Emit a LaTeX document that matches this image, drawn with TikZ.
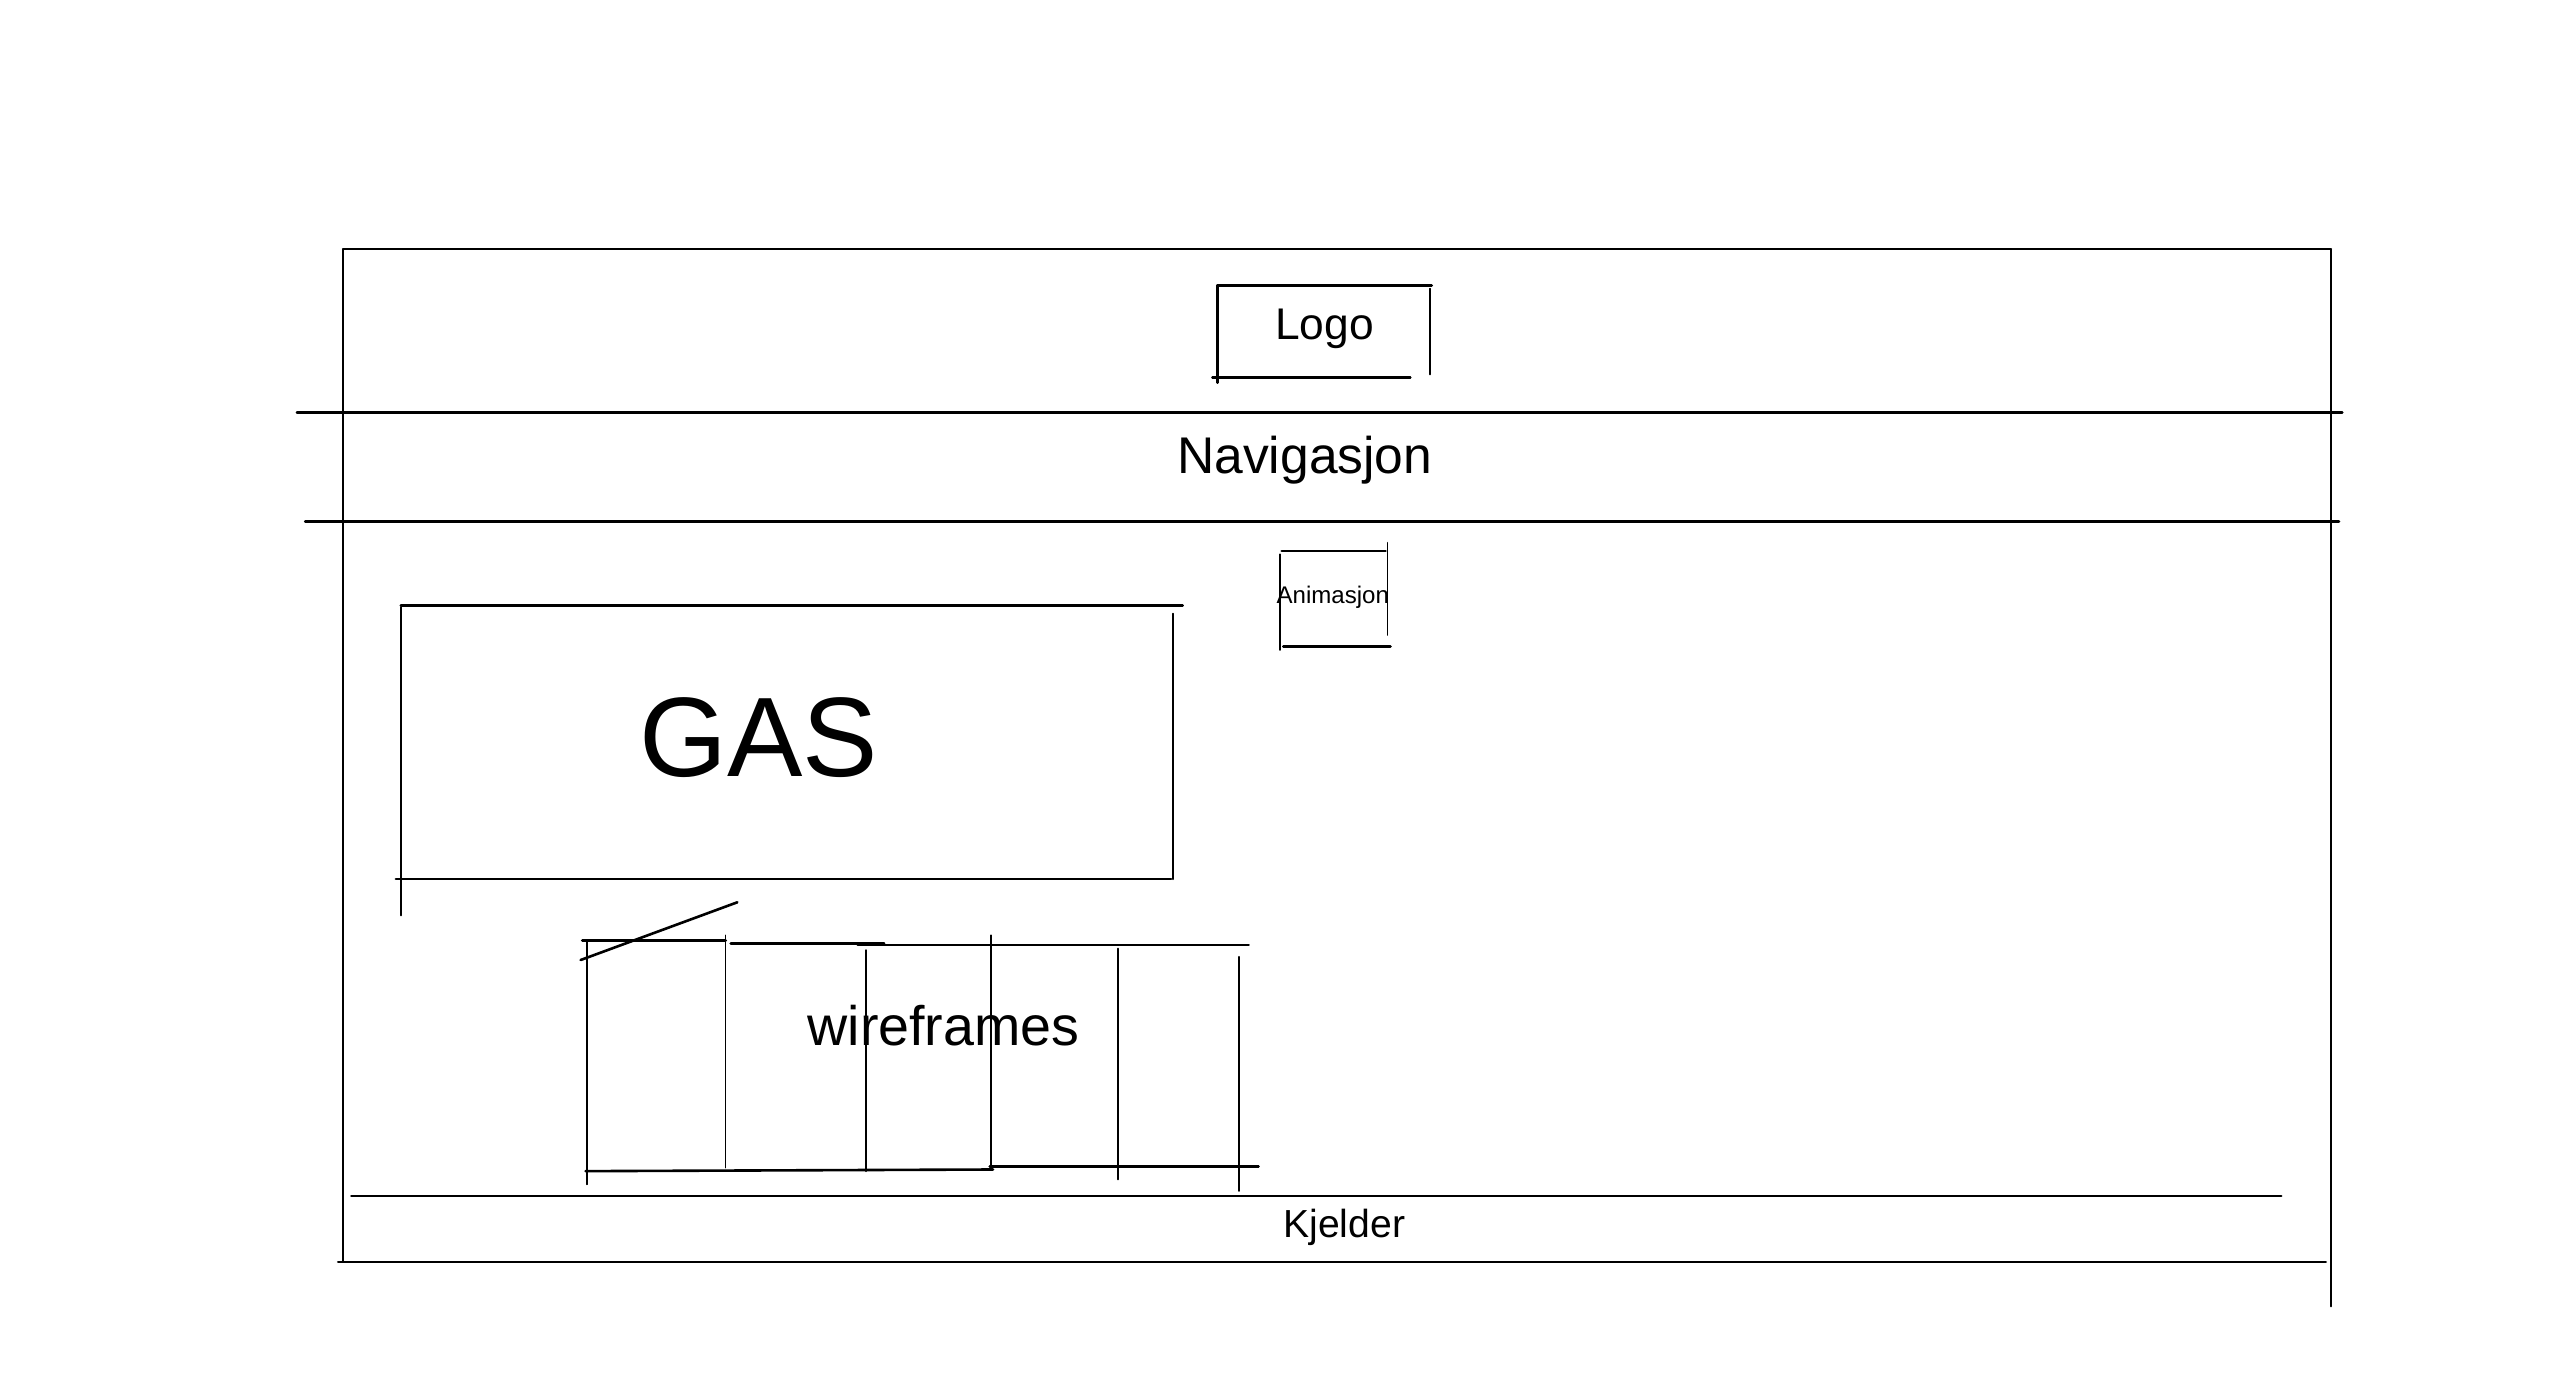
\documentclass[tikz,border=0pt]{standalone}
\usepackage{fontspec}
\setmainfont{Liberation Sans}
\begin{document}
\begin{tikzpicture}[x=0.02cm,y=-0.02cm,line width=0.9pt,line cap=round]
\useasboundingbox (0,0) rectangle (1552,836);
% ramme
\draw (208,151) -- (1413,151);
\draw[line width=0.5pt] (208,151) -- (208,765);
\draw[line width=0.6pt] (1413,151) -- (1413,792);
\draw (180,250) -- (1420,250);
\draw (185,316) -- (1418,316);
\draw (213,725) -- (1383,725);
\draw (205,765) -- (1410,765);
% logo
\draw (738,173) -- (868,173);
\draw (738,173) -- (738,232);
\draw (735,229) -- (855,229);
\draw[line width=0.6pt] (867,175) -- (867,227);
\node[font=\fontsize{15.3}{18}\selectfont,anchor=base] (logo) at (803,206) {Logo};
\node[font=\fontsize{17.8}{21}\selectfont,anchor=base] (nav) at (791,287) {Navigasjon};
% animasjon
\draw (777,334) -- (840,334);
\draw[line width=0.6pt] (776,336) -- (776,394);
\draw[line width=0.5pt] (841,329) -- (841,385);
\draw (778,392) -- (843,392);
\node[font=\fontsize{8.3}{10}\selectfont,anchor=base] (anim) at (808,366) {Animasjon};
% GAS
\draw (243,367) -- (717,367);
\draw[line width=0.6pt] (243,368) -- (243,555);
\draw[line width=0.6pt] (711,372) -- (711,533);
\draw (240,533) -- (710,533);
\node[font=\fontsize{39}{44}\selectfont,anchor=base] (gas) at (460,471) {GAS};
% wireframes
\draw (353,570) -- (440,570);
\draw (443,572) -- (536,572);
\draw (520,573) -- (757,573);
\draw (352,582) -- (447,547);
\draw[line width=0.6pt] (356,571) -- (356,718);
\draw[line width=0.4pt] (440,567) -- (440,708);
\draw[line width=0.6pt] (525,576) -- (525,710);
\draw[line width=0.6pt] (601,567) -- (601,707);
\draw[line width=0.6pt] (678,575) -- (678,715);
\draw[line width=0.6pt] (751,580) -- (751,722);
\draw (355,710) -- (602,709);
\draw (600,707) -- (763,707);
\node[font=\fontsize{19.2}{23}\selectfont,anchor=base] (wire) at (572,634) {wireframes};
% kjelder
\node[font=\fontsize{13.5}{16}\selectfont,anchor=base] (kjelder) at (815,750) {Kjelder};
\end{tikzpicture}
\end{document}
